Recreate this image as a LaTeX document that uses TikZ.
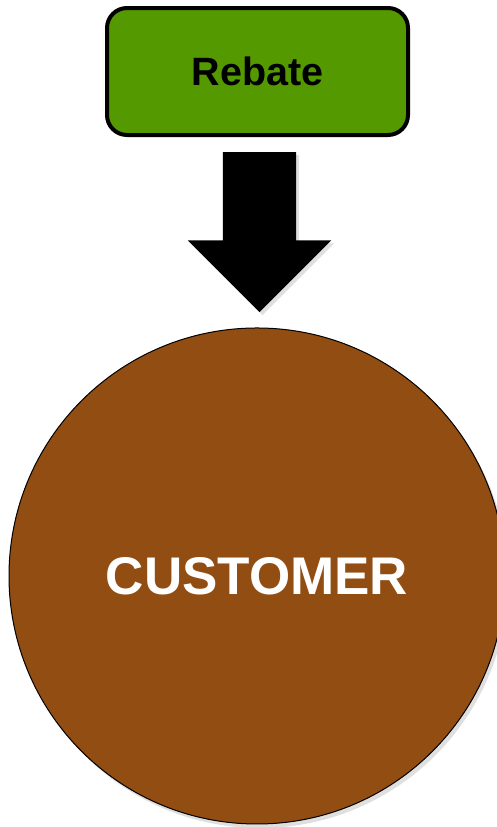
\documentclass[tikz,border=0pt]{standalone}
\usepackage{fontspec}
\setmainfont{Liberation Sans}
\usetikzlibrary{shapes.arrows, shadows, positioning}
\definecolor{rebategreen}{RGB}{85,153,0}
\definecolor{custbrown}{RGB}{146,77,18}
\tikzstyle{offer} = [rectangle, rounded corners=20pt, minimum width=301pt, minimum height=127pt, text centered, draw=black, line width=4pt, fill=rebategreen, font=\fontsize{39.5}{44}\selectfont\bfseries]
\tikzstyle{push} = [single arrow, shape border rotate=270, fill=black, inner xsep=36.5pt, inner ysep=0pt, single arrow head extend=35pt, minimum height=160pt, drop shadow={shadow xshift=3pt, shadow yshift=-3pt, fill=black!25}]
\tikzstyle{party} = [circle, minimum size=496pt, draw=black, line width=1pt, fill=custbrown, text=white, font=\fontsize{53}{60}\selectfont\bfseries, drop shadow={shadow xshift=3pt, shadow yshift=-4pt, fill=black!25}]

\begin{document}
\begin{tikzpicture}[x=1pt, y=-1pt]

\useasboundingbox (0,0) rectangle (496,827);

\node (rebate) [offer] at (257.5,71.5) {Rebate};
\node (arrow) [push, anchor=tail] at ([xshift=2pt, yshift=-15pt]rebate.south) {};
\node (customer) [party, below=15pt of arrow.tip, xshift=-2.5pt] {CUSTOMER};

\end{tikzpicture}
\end{document}
